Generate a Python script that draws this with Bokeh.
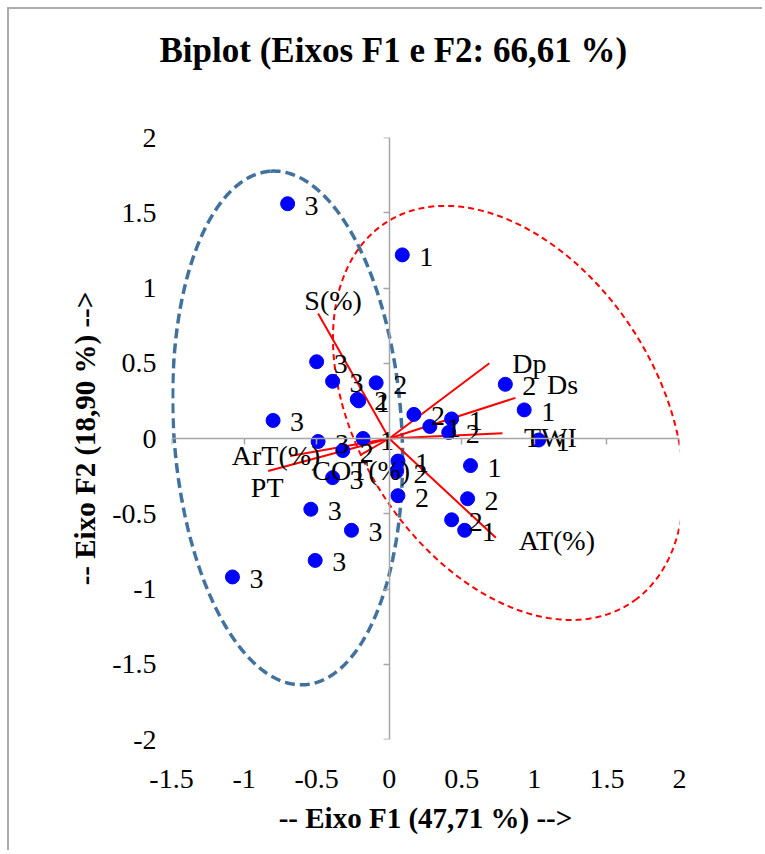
import numpy as np
from bokeh.plotting import figure
from bokeh.models import LinearAxis, FixedTicker, ColumnDataSource, Title
from bokeh.core.properties import value
from bokeh.embed import file_html
from bokeh.resources import INLINE

# ---------------- data ----------------
obs_f1 = [-0.70, 0.09, -0.50, -0.39, -0.09, -0.22, -0.21, -0.80, -0.49, -0.32,
          -0.18, -0.39, 0.06, 0.05, 0.06, -0.54, -0.26, -0.51, -1.08, 0.17,
          0.43, 0.28, 0.41, 0.80, 0.93, 1.03, 0.56, 0.54, 0.43, 0.52]
obs_f2 = [1.56, 1.22, 0.51, 0.38, 0.37, 0.26, 0.25, 0.12, -0.02, -0.08,
          0.00, -0.26, -0.15, -0.22, -0.38, -0.47, -0.61, -0.81, -0.92, 0.16,
          0.13, 0.08, 0.04, 0.36, 0.19, -0.01, -0.18, -0.40, -0.54, -0.61]
obs_lab = ["3", "1", "3", "3", "2", "2", "1", "3", "3", "2",
           "1", "3", "1", "2", "2", "3", "3", "3", "3", "2",
           "1", "1", "2", "2", "1", "1", "1", "2", "2", "1"]

var_names = ["S(%)", "Dp", "Ds", "TWI", "AT(%)", "ArT(%)", "PT", "COT(%)"]
var_f1 = [-0.49, 0.69, 0.87, 0.78, 0.735, -0.683, -0.834, -0.20]
var_f2 = [0.83, 0.50, 0.27, 0.035, -0.66, -0.116, -0.216, -0.11]

# confidence ellipses (group 3 = blue, groups 1/2 = red)
ell_cx = [-0.70, 0.82]
ell_cy = [0.07, 0.17]
ell_a = [1.71, 1.52]
ell_b = [0.785, 1.02]
ell_angle_deg = [94.0, -55.0]

x_ticks = [-1.5, -1, -0.5, 0, 0.5, 1, 1.5, 2]
x_tick_labels = ["-1.5", "-1", "-0.5", "0", "0.5", "1", "1.5", "2"]
y_ticks = [-2, -1.5, -1, -0.5, 0, 0.5, 1, 1.5, 2]
y_tick_labels = ["-2", "-1.5", "-1", "-0.5", "0", "0.5", "1", "1.5", "2"]

title_text = "Biplot (Eixos F1 e F2: 66,61 %)"
x_title = "-- Eixo F1 (47,71 %) -->"
y_title = "-- Eixo F2 (18,90 %) -->"

# ---------------- styles ----------------
FONT = "Liberation Serif"
AXIS_GRAY = "#A6A6A6"
ell_colors = ["#41719C", "#FF0000"]
ell_widths = [3.5, 2.0]
ell_dashes = ["10 5", "6 4"]
var_dx = [15, 40, 47, 48, 61, -14, -1, 1]
var_dy = [-13, 0, -13, 4, 3, 0, 16, 15]

p = figure(width=755, height=843, x_range=(-1.5, 2), y_range=(-2, 2),
           x_axis_type=None, y_axis_type=None, title=None,
           output_backend="svg", toolbar_location=None,
           min_border_left=162, min_border_right=85,
           min_border_top=128, min_border_bottom=113)
p.outline_line_color = None
p.xgrid.visible = False
p.ygrid.visible = False
p.background_fill_color = "white"
p.border_fill_color = "white"
p.styles = {"border-top": "2px solid #ABABAB", "border-left": "2px solid #ABABAB",
            "margin-left": "7px", "margin-top": "7px"}

# spacer between frame and title, then the title itself
spacer = Title(text=" ", text_font_size="1px", standoff=60)
p.add_layout(spacer, "above")
main_title = Title(text=title_text, text_font=FONT, text_font_size="35px",
                   text_font_style="bold", text_color="black",
                   align="left", offset=-12, standoff=10)
p.add_layout(main_title, "above")

# label-only axes at frame edges
xl = LinearAxis(ticker=FixedTicker(ticks=x_ticks),
                major_label_overrides={t: s for t, s in zip(x_ticks, x_tick_labels)})
xl.axis_line_color = None
xl.major_tick_line_color = None
xl.minor_tick_line_color = None
xl.major_label_text_font = FONT
xl.major_label_text_font_size = "28px"
xl.major_label_text_color = "black"
xl.major_label_standoff = 24
xl.axis_label = x_title
xl.axis_label_text_font = FONT
xl.axis_label_text_font_size = "29px"
xl.axis_label_text_font_style = "bold"
xl.axis_label_text_color = "black"
xl.axis_label_standoff = 11
p.add_layout(xl, "below")

yl = LinearAxis(ticker=FixedTicker(ticks=y_ticks),
                major_label_overrides={t: s for t, s in zip(y_ticks, y_tick_labels)})
yl.axis_line_color = None
yl.major_tick_line_color = None
yl.minor_tick_line_color = None
yl.major_label_text_font = FONT
yl.major_label_text_font_size = "28px"
yl.major_label_text_color = "black"
yl.major_label_standoff = 9
yl.axis_label = y_title
yl.axis_label_text_font = FONT
yl.axis_label_text_font_size = "29px"
yl.axis_label_text_font_style = "bold"
yl.axis_label_text_color = "black"
yl.axis_label_standoff = 8
p.add_layout(yl, "left")

# axes through the origin (line + ticks, no labels)
xo = LinearAxis(ticker=FixedTicker(ticks=x_ticks), fixed_location=0,
                major_label_overrides={t: "" for t in x_ticks})
xo.axis_line_color = AXIS_GRAY
xo.axis_line_width = 1.5
xo.major_tick_line_color = AXIS_GRAY
xo.major_tick_line_width = 1.5
xo.major_tick_in = 0
xo.major_tick_out = 6
xo.minor_tick_line_color = None
xo.major_label_text_font_size = "0px"
p.add_layout(xo, "below")

yo = LinearAxis(ticker=FixedTicker(ticks=y_ticks), fixed_location=0,
                major_label_overrides={t: "" for t in y_ticks})
yo.axis_line_color = AXIS_GRAY
yo.axis_line_width = 1.5
yo.major_tick_line_color = AXIS_GRAY
yo.major_tick_line_width = 1.5
yo.major_tick_in = 0
yo.major_tick_out = 6
yo.minor_tick_line_color = None
yo.major_label_text_font_size = "0px"
p.add_layout(yo, "left")

# ellipses
t = np.linspace(0, 2 * np.pi, 500)
for cx, cy, a, b, ang, col, w, d in zip(ell_cx, ell_cy, ell_a, ell_b, ell_angle_deg,
                                        ell_colors, ell_widths, ell_dashes):
    phi = np.deg2rad(ang)
    ex = cx + a * np.cos(phi) * np.cos(t) - b * np.sin(phi) * np.sin(t)
    ey = cy + a * np.sin(phi) * np.cos(t) + b * np.cos(phi) * np.sin(t)
    p.line(ex, ey, line_color=col, line_width=w, line_dash=d)

# variable vectors
vsrc = ColumnDataSource(dict(x0=[0] * len(var_f1), y0=[0] * len(var_f2),
                             x1=var_f1, y1=var_f2, name=var_names,
                             dx=var_dx, dy=var_dy))
p.segment(x0="x0", y0="y0", x1="x1", y1="y1", source=vsrc,
          line_color="#FF0000", line_width=2)

# observations
osrc = ColumnDataSource(dict(x=obs_f1, y=obs_f2, lab=obs_lab))
p.scatter(x="x", y="y", source=osrc, size=14, fill_color="#0000FF",
          line_color="#0000FF", marker="circle")
p.text(x="x", y="y", text="lab", source=osrc, x_offset=17, y_offset=2,
       text_font=value(FONT), text_font_size=value("28px"),
       text_align="left", text_baseline="middle", text_color="black")

# variable labels
p.text(x="x1", y="y1", text="name", source=vsrc, x_offset="dx", y_offset="dy",
       text_font=value(FONT), text_font_size=value("28px"),
       text_align="center", text_baseline="middle", text_color="black")

open("out.html", "w").write(file_html(p, INLINE))
